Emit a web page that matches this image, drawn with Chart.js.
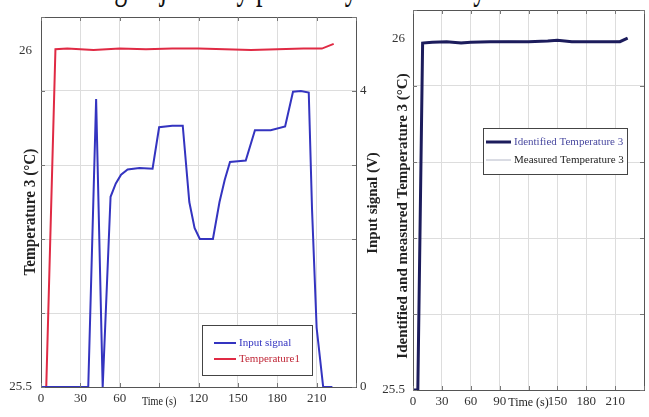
<!DOCTYPE html>
<html>
<head>
<title>Temperature 3 identification</title>
<script src="https://cdn.jsdelivr.net/npm/chart.js"></script>
<style>
  body { margin: 0; background: #fff; width: 649px; height: 417px; overflow: hidden; position: relative; font-family: "Liberation Serif", serif; }
  #caption { position: absolute; left: -12px; top: -34px; font-size: 26px; line-height: 26px; white-space: nowrap; color: #111;
             transform: scaleY(1.5); transform-origin: 0 0; }
  #left { position: absolute; left: 0; top: 0; }
  #right { position: absolute; left: 380px; top: 0; }
</style>
</head>
<body>
<div id="caption">the following objectively passed by all of the system.</div>
<canvas id="left" width="390" height="417"></canvas>
<canvas id="right" width="269" height="417"></canvas>

<script>
// ---- data ----
const inputTime = [0, 36, 42, 47, 53, 57, 61, 66, 75, 85, 90, 100, 108, 113, 117, 121, 131, 136, 140, 144, 150, 156, 163, 175, 186, 192, 198, 204, 206.5, 210, 215, 222];
const inputVolt = [0, 0, 3.89, 0, 2.57, 2.75, 2.87, 2.94, 2.96, 2.95, 3.51, 3.53, 3.53, 2.5, 2.15, 2.0, 2.0, 2.5, 2.8, 3.04, 3.05, 3.06, 3.47, 3.47, 3.52, 3.99, 4.0, 3.98, 2.4, 0.8, 0, 0];

const temp1Time  = [0, 4, 11, 20, 40, 60, 80, 100, 120, 140, 160, 180, 200, 214, 223];
const temp1Value = [25.5, 25.5, 26.002, 26.003, 26.001, 26.003, 26.002, 26.003, 26.003, 26.002, 26.001, 26.002, 26.003, 26.003, 26.01];

const identTime  = [0, 5, 10, 20, 35, 50, 60, 80, 100, 120, 140, 150, 165, 180, 200, 215, 223];
const identValue = [25.5, 25.5, 25.993, 25.994, 25.995, 25.993, 25.994, 25.995, 25.995, 25.995, 25.996, 25.997, 25.995, 25.995, 25.995, 25.995, 26.0];
const measTime   = [0, 5, 10, 20, 40, 60, 80, 100, 120, 140, 160, 180, 200, 215, 223];
const measValue  = [25.5, 25.5, 25.994, 25.995, 25.994, 25.995, 25.995, 25.996, 25.995, 25.996, 25.996, 25.995, 25.995, 25.996, 26.0];

const timeTicks       = [0, 30, 60, 90, 120, 150, 180, 210, 240];
const leftTimeLabels  = ['0', '30', '60', '', '120', '150', '180', '210', ''];
const rightTimeLabels = ['0', '30', '60', '90', '', '150', '180', '210', ''];
const tempTicks  = [25.5, 26];
const tempLabels = ['25.5', '26'];
const inputLabels = ['0', '', '', '', '4', ''];

const toPoints = (xs, ys) => xs.map((x, i) => ({ x: x, y: ys[i] }));

const tickFont = { family: 'Liberation Serif', size: 13 };
const gridColor = '#dddddd';

// frame with inner tick marks, axis titles and boxed legend drawn on top of the chart
const decorations = {
  id: 'decorations',
  afterDraw(chart, args, opts) {
    const ctx = chart.ctx;
    const a = chart.chartArea;
    ctx.save();
    ctx.strokeStyle = '#555';
    ctx.lineWidth = 1;
    ctx.strokeRect(Math.round(a.left) + 0.5, Math.round(a.top) + 0.5, Math.round(a.width), Math.round(a.height));

    ctx.strokeStyle = '#777';
    ctx.beginPath();
    chart.scales.x.ticks.forEach(t => {
      const x = Math.round(chart.scales.x.getPixelForValue(t.value)) + 0.5;
      ctx.moveTo(x, a.top); ctx.lineTo(x, a.top + 4);
      ctx.moveTo(x, a.bottom); ctx.lineTo(x, a.bottom - 4);
    });
    const gs = chart.scales[opts.gridAxis];
    gs.ticks.forEach(t => {
      const y = Math.round(gs.getPixelForValue(t.value)) + 0.5;
      ctx.moveTo(a.left, y); ctx.lineTo(a.left + 4, y);
      ctx.moveTo(a.right, y); ctx.lineTo(a.right - 4, y);
    });
    ctx.stroke();

    ctx.textAlign = 'center';
    ctx.textBaseline = 'middle';
    opts.titles.forEach(t => {
      ctx.save();
      const x = t.value !== undefined ? chart.scales.x.getPixelForValue(t.value) : t.x;
      ctx.translate(x, t.y);
      if (t.rotate) ctx.rotate(-Math.PI / 2);
      if (t.squeeze) ctx.scale(t.squeeze, 1);
      ctx.font = t.font;
      ctx.fillStyle = '#222';
      ctx.fillText(t.text, 0, 0);
      ctx.restore();
    });

    const lg = opts.legend;
    ctx.fillStyle = '#fff';
    ctx.fillRect(lg.x, lg.y, lg.w, lg.h);
    ctx.strokeStyle = '#444';
    ctx.strokeRect(lg.x + 0.5, lg.y + 0.5, lg.w, lg.h);
    ctx.font = '11px "Liberation Serif"';
    ctx.textAlign = 'left';
    lg.rows.forEach((r, i) => {
      const ds = chart.data.datasets[r.dataset];
      const y = lg.y + lg.rowTop + i * lg.rowGap;
      ctx.strokeStyle = ds.borderColor;
      ctx.lineWidth = ds.borderWidth;
      ctx.beginPath();
      ctx.moveTo(lg.x + lg.lineX0, y);
      ctx.lineTo(lg.x + lg.lineX1, y);
      ctx.stroke();
      ctx.fillStyle = r.color;
      ctx.fillText(ds.label, lg.x + lg.textX, y);
    });
    ctx.restore();
  }
};

new Chart(document.getElementById('left'), {
  type: 'line',
  data: {
    datasets: [
      { label: 'Input signal', data: toPoints(inputTime, inputVolt), yAxisID: 'y2',
        borderColor: '#3434c0', borderWidth: 2, pointRadius: 0, tension: 0 },
      { label: 'Temperature1', data: toPoints(temp1Time, temp1Value), yAxisID: 'y',
        borderColor: '#e02a44', borderWidth: 2, pointRadius: 0, tension: 0 }
    ]
  },
  options: {
    responsive: false,
    animation: false,
    devicePixelRatio: 1,
    layout: { padding: { top: 17, left: 0, right: 0, bottom: 0 } },
    plugins: {
      legend: { display: false },
      tooltip: { enabled: false },
      decorations: {
        gridAxis: 'y2',
        titles: [
          { text: 'Temperature 3 (°C)', x: 31, y: 212, rotate: true, font: 'bold 16px "Liberation Serif"', squeeze: 0.95 },
          { text: 'Input signal (V)', x: 373, y: 203, rotate: true, font: 'bold 15px "Liberation Serif"' },
          { text: 'Time (s)', value: 90, y: 402, font: '12px "Liberation Serif"', squeeze: 0.85 }
        ],
        legend: { x: 202, y: 325, w: 110, h: 50, rowTop: 18, rowGap: 16, lineX0: 12, lineX1: 34, textX: 37,
          rows: [ { dataset: 0, color: '#3434c0' }, { dataset: 1, color: '#c02838' } ] }
      }
    },
    scales: {
      x: {
        type: 'linear', min: 0, max: 240,
        ticks: { stepSize: 30, font: tickFont, color: '#333', padding: 4, maxRotation: 0,
                 callback: (v, i) => leftTimeLabels[timeTicks.indexOf(v)] },
        grid: { color: gridColor, drawTicks: false },
        border: { display: false },
        afterFit: s => { s.height = 30; }
      },
      y: {
        position: 'left', min: 25.5, max: 26.05,
        afterBuildTicks: s => { s.ticks = tempTicks.map(v => ({ value: v })); },
        ticks: { font: tickFont, color: '#333', padding: 1,
                 callback: v => tempLabels[tempTicks.indexOf(v)] },
        grid: { display: false },
        border: { display: false },
        afterFit: s => { s.width = 41; }
      },
      y2: {
        position: 'right', min: 0, max: 5,
        ticks: { stepSize: 1, font: tickFont, color: '#333', padding: 4,
                 callback: (v, i) => inputLabels[v] },
        grid: { color: gridColor, drawTicks: false },
        border: { display: false },
        afterFit: s => { s.width = 34; }
      }
    }
  },
  plugins: [decorations]
});

new Chart(document.getElementById('right'), {
  type: 'line',
  data: {
    datasets: [
      { label: 'Identified Temperature 3', data: toPoints(identTime, identValue),
        borderColor: '#1c1c5c', borderWidth: 3, pointRadius: 0, tension: 0 },
      { label: 'Measured Temperature 3', data: toPoints(measTime, measValue),
        borderColor: '#b4b8c8', borderWidth: 1, pointRadius: 0, tension: 0 }
    ]
  },
  options: {
    responsive: false,
    animation: false,
    devicePixelRatio: 1,
    layout: { padding: { top: 10, left: 0, right: 0, bottom: 0 } },
    plugins: {
      legend: { display: false },
      tooltip: { enabled: false },
      decorations: {
        gridAxis: 'yg',
        titles: [
          { text: 'Identified and measured Temperature 3 (°C)', x: 23, y: 216, rotate: true, font: 'bold 15px "Liberation Serif"' },
          { text: 'Time (s)', value: 120, y: 403, font: '12px "Liberation Serif"' }
        ],
        legend: { x: 103, y: 128, w: 144, h: 46, rowTop: 14, rowGap: 18, lineX0: 3, lineX1: 28, textX: 31,
          rows: [ { dataset: 0, color: '#4a4aa0' }, { dataset: 1, color: '#222' } ] }
      }
    },
    scales: {
      x: {
        type: 'linear', min: 0, max: 240,
        ticks: { stepSize: 30, font: tickFont, color: '#333', padding: 4, maxRotation: 0,
                 callback: (v, i) => rightTimeLabels[timeTicks.indexOf(v)] },
        grid: { color: gridColor, drawTicks: false },
        border: { display: false },
        afterFit: s => { s.height = 27; }
      },
      y: {
        position: 'left', min: 25.5, max: 26.04,
        afterBuildTicks: s => { s.ticks = tempTicks.map(v => ({ value: v })); },
        ticks: { font: tickFont, color: '#333', padding: 0,
                 callback: v => tempLabels[tempTicks.indexOf(v)] },
        grid: { display: false },
        border: { display: false },
        afterFit: s => { s.width = 33; }
      },
      yg: {
        position: 'right', min: 0, max: 5,
        ticks: { stepSize: 1, display: false },
        grid: { color: gridColor, drawTicks: false },
        border: { display: false },
        afterFit: s => { s.width = 5; }
      }
    }
  },
  plugins: [decorations]
});
</script>
</body>
</html>
